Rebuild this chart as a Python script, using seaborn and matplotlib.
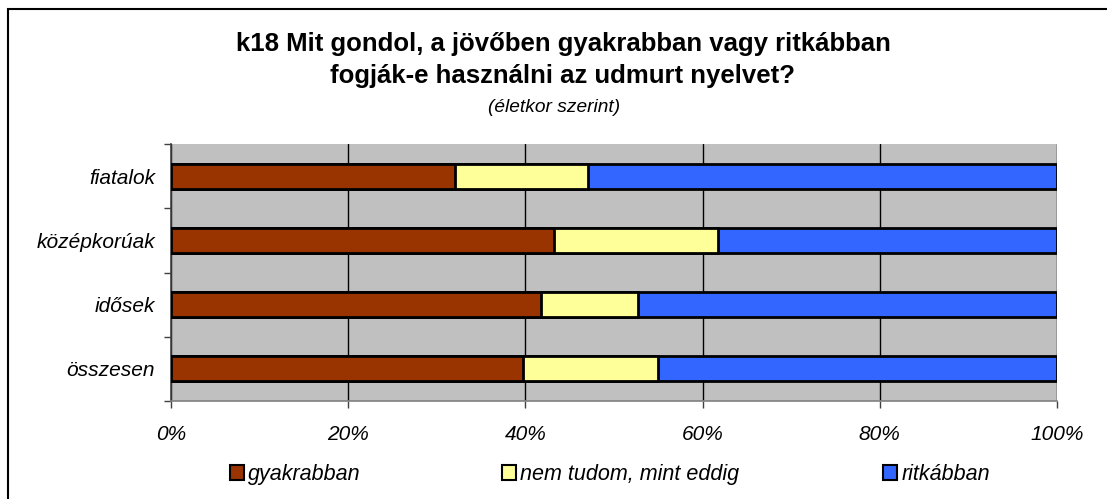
import matplotlib
matplotlib.use('Agg')
import matplotlib.pyplot as plt
import matplotlib.patches as mpatches
import pandas as pd
import seaborn as sns

# data (percent of each age group)
groups = ["fiatalok", "középkorúak", "idősek", "összesen"]
gyakrabban = [32.0, 43.2, 41.8, 39.7]
nem_tudom = [15.1, 18.5, 10.9, 15.3]
ritkabban = [52.9, 38.3, 47.3, 45.0]
series_names = ["gyakrabban", "nem tudom, mint eddig", "ritkábban"]
colors = ["#993300", "#FFFF99", "#3366FF"]
xticks = [0, 20, 40, 60, 80, 100]

sns.set_theme(style="white")
plt.rcParams['font.family'] = ['Liberation Sans', 'DejaVu Sans']
plt.rcParams['text.color'] = 'black'
plt.rcParams['xtick.color'] = 'black'
plt.rcParams['ytick.color'] = 'black'

df = pd.DataFrame({"group": groups, "g": gyakrabban, "n": nem_tudom, "r": ritkabban})
df["c1"] = df["g"]
df["c2"] = df["g"] + df["n"]
df["c3"] = df["g"] + df["n"] + df["r"]

fig = plt.figure(figsize=(11.07, 4.99), dpi=100)
ax = fig.add_axes([171 / 1107, 1 - 401 / 499, 886 / 1107, 257 / 499])
ax.set_facecolor("#C0C0C0")

# stacked bars: draw cumulative totals back to front
for col, c in zip(["c3", "c2", "c1"], colors[::-1]):
    sns.barplot(data=df, x=col, y="group", orient="h", color=c, width=0.39,
                edgecolor="black", linewidth=2, saturation=1, ax=ax, zorder=3)

ax.set_xlim(0, 100)
ax.set_ylim(3.5, -0.5)
ax.set_xticks(xticks)
ax.set_xticklabels([f"{t}%" for t in xticks], fontsize=15, style="italic")
ax.xaxis.grid(True, color="black", linewidth=1)
ax.set_axisbelow(True)
ax.set_xlabel("")
ax.set_ylabel("")

ax.set_yticks([i + 0.5 for i in range(-1, 4)])
ax.set_yticklabels([])
ax.set_yticks(range(len(groups)), minor=True)
ax.set_yticklabels(groups, minor=True, fontsize=15, style="italic")
ax.tick_params(axis="y", which="major", left=True, length=5, width=1, color="#404040")
ax.tick_params(axis="y", which="minor", left=False, length=0, pad=11.5)
ax.tick_params(axis="x", bottom=True, length=5, width=1, color="#404040", pad=12)

for s in ["top", "right"]:
    ax.spines[s].set_visible(False)
ax.spines["left"].set_color("#404040")
ax.spines["bottom"].set_color("#808080")
ax.spines["left"].set_linewidth(1.2)
ax.spines["bottom"].set_linewidth(1.2)

fig.text(563 / 1107, 1 - 44 / 499, "k18 Mit gondol, a jövőben gyakrabban vagy ritkábban",
         ha="center", va="center", fontsize=18.5, weight="bold")
fig.text(563 / 1107, 1 - 76 / 499, "fogják-e használni az udmurt nyelvet?",
         ha="center", va="center", fontsize=18.5, weight="bold")
fig.text(554 / 1107, 1 - 107 / 499, "(életkor szerint)",
         ha="center", va="center", fontsize=13.8, style="italic")

# legend entries placed like the original
leg_x = [230, 502, 883]
for name, c, x in zip(series_names, colors, leg_x):
    h = mpatches.Patch(facecolor=c, edgecolor="black", linewidth=1.5)
    fig.legend(handles=[h], labels=[name], loc="lower left",
               bbox_to_anchor=(x / 1107, 1 - 485 / 499), frameon=False,
               prop={"size": 15.5, "style": "italic"}, handlelength=0.65,
               handleheight=0.65, handletextpad=0.2, borderaxespad=0, borderpad=0)

# outer chart frame
fig.patches.append(mpatches.Rectangle((8 / 1107, -0.1), 1.2, 1 - 9 / 499 + 0.1,
                                      transform=fig.transFigure, fill=False,
                                      edgecolor="black", linewidth=1.5))

fig.savefig("out.png", dpi=100)
